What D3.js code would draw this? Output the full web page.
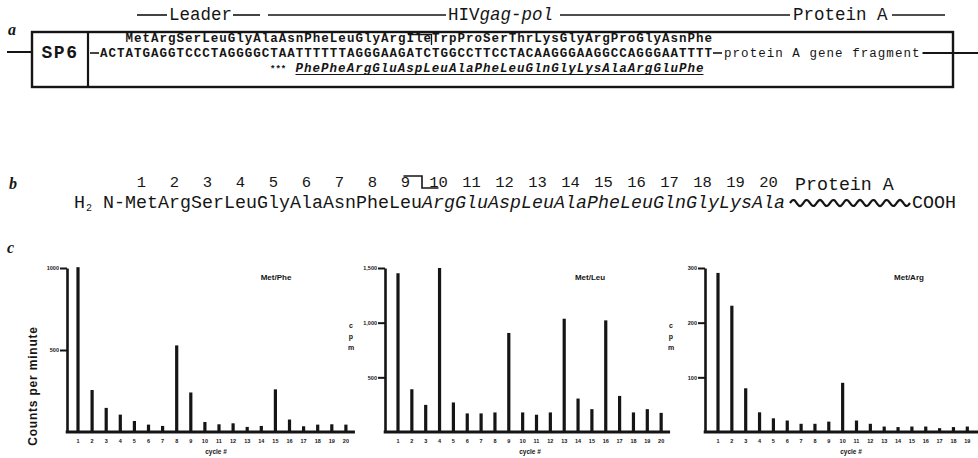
<!DOCTYPE html>
<html>
<head>
<meta charset="utf-8">
<script src="https://cdn.jsdelivr.net/npm/d3@7"></script>
<style>
  body { margin: 0; background: #fff; }
  svg { display: block; }
  text { fill: #151515; }
</style>
</head>
<body>
<svg id="fig" width="978" height="458"></svg>
<script>
// ---- panel a / b sequences ----
const leaderAA = "MetArgSerLeuGlyAlaAsnPheLeuGlyArgIleTrpProSerThrLysGlyArgProGlyAsnPhe";
const dnaSeq = "ACTATGAGGTCCCTAGGGGCTAATTTTTTAGGGAAGATCTGGCCTTCCTACAAGGGAAGGCCAGGGAATTTT";
const shiftedAA = "PhePheArgGluAspLeuAlaPheLeuGlnGlyLysAlaArgGluPhe";
const residues = ["Met","Arg","Ser","Leu","Gly","Ala","Asn","Phe","Leu",
                  "Arg","Glu","Asp","Leu","Ala","Phe","Leu","Gln","Gly","Lys","Ala"];
const residueNums = ["1","2","3","4","5","6","7","8","9","10",
                     "11","12","13","14","15","16","17","18","19","20"];

// ---- panel c data (counts per cycle) ----
const cycles = [1,2,3,4,5,6,7,8,9,10,11,12,13,14,15,16,17,18,19,20];
const metPhe = [1005,256,147,106,67,45,37,528,241,61,47,53,31,37,260,76,35,45,47,45];
const metLeu = [1452,391,248,1500,270,170,170,179,906,179,158,179,1036,306,209,1021,330,179,209,175];
const metArg = [291,231,80,36,25,21,15,15,19,90,21,15,10,9,10,10,7,9,10,10];
const pheTicks = [500,1000];
const leuTicks = [500,1000,1500];
const argTicks = [100,200,300];

const svg = d3.select("#fig");
const mono = "'Liberation Mono','DejaVu Sans Mono',monospace";
const serif = "'Liberation Serif','DejaVu Serif',serif";
const sans = "'Liberation Sans',Arial,sans-serif";
const ink = "#151515";

function hline(x1, x2, y, w) {
  svg.append("line").attr("x1", x1).attr("x2", x2).attr("y1", y).attr("y2", y)
    .attr("stroke", ink).attr("stroke-width", w || 1.6);
}

function panelLabel(t, x, y) {
  svg.append("text").attr("x", x).attr("y", y).text(t)
    .style("font-family", serif).style("font-style", "italic").style("font-weight", "bold")
    .style("font-size", "16px");
}

// ================= panel a =================
panelLabel("a", 8, 35);

// header
const hdr = svg.append("g").style("font-family", mono).style("font-size", "17.5px");
hline(137, 167, 15); hline(233, 260, 15);
hdr.append("text").attr("x", 169).attr("y", 20).text("Leader");
hline(268, 446, 15);
const hiv = hdr.append("text").attr("x", 448).attr("y", 20);
hiv.append("tspan").text("HIV");
hiv.append("tspan").style("font-style", "italic").text("gag-pol");
hline(560, 790, 15);
hdr.append("text").attr("x", 793).attr("y", 20).text("Protein A");
hline(892, 945, 15);

// construct box
svg.append("rect").attr("x", 32).attr("y", 32).attr("width", 921).attr("height", 55)
  .attr("fill", "none").attr("stroke", ink).attr("stroke-width", 2.4);
svg.append("line").attr("x1", 88).attr("x2", 88).attr("y1", 32).attr("y2", 87)
  .attr("stroke", ink).attr("stroke-width", 2.2);
hline(7, 32, 52, 2);
svg.append("text").attr("x", 60).attr("y", 58).attr("text-anchor", "middle").text("SP6")
  .style("font-family", mono).style("font-weight", "bold").style("font-size", "18px")
  .style("letter-spacing", "1.5px");

const cw = 8.5;         // width of one base
const x0 = 100;         // first base
const rows = svg.append("g").style("font-family", mono).style("font-size", "12.5px")
  .style("font-weight", "bold");
rows.append("text").attr("x", x0 + 3 * cw).attr("y", 42).text(leaderAA)
  .attr("textLength", leaderAA.length * cw);
// frameshift marker over the leader reading frame
const ileX = x0 + 3 * cw + 11 * 3 * cw;
svg.append("path").attr("d", `M${ileX + 2},34.5 H${ileX + 3 * cw} V45`)
  .attr("fill", "none").attr("stroke", ink).attr("stroke-width", 1.3);
hline(90, 99, 53, 1.6);
rows.append("text").attr("x", x0).attr("y", 57).text(dnaSeq)
  .attr("textLength", dnaSeq.length * cw);
const dnaEnd = x0 + dnaSeq.length * cw;
hline(dnaEnd + 1, dnaEnd + 10, 53, 1.6);
rows.append("text").attr("x", dnaEnd + 12).attr("y", 57).text("protein A gene fragment")
  .style("font-weight", "normal").attr("textLength", 23 * cw);
hline(dnaEnd + 12 + 23 * cw + 3, 978, 53, 2);
rows.append("text").attr("x", x0 + 20 * cw).attr("y", 71.5).text("***")
  .style("font-size", "9px");
rows.append("text").attr("x", x0 + 23 * cw).attr("y", 71.5).text(shiftedAA)
  .style("font-style", "italic").attr("textLength", shiftedAA.length * cw);
hline(x0 + 23 * cw, x0 + (23 + shiftedAA.length) * cw, 74.5, 1.2);

// ================= panel b =================
panelLabel("b", 9, 189);
const rw = 33;          // width of one residue
const r0 = 125;         // start of Met
const pb = svg.append("g").style("font-family", mono).style("font-size", "18.3px");
pb.selectAll(".num").data(residueNums).join("text")
  .attr("class", "num")
  .attr("x", (d, i) => r0 + i * rw + rw / 2)
  .attr("y", 187).attr("text-anchor", "middle")
  .style("font-size", "15.5px")
  .text(d => d);
svg.append("path").attr("d", `M${r0 + 8.5 * rw - 2},176 H${r0 + 9 * rw} V188 H${r0 + 9.5 * rw}`)
  .attr("fill", "none").attr("stroke", ink).attr("stroke-width", 1.6);
pb.append("text").attr("x", 795).attr("y", 190).text("Protein A");

const seq = pb.append("text").attr("y", 208);
seq.append("tspan").attr("x", 74).text("H");
seq.append("tspan").attr("x", 86).attr("dy", 3).style("font-size", "10px").text("2");
seq.append("tspan").attr("x", 103).attr("dy", -3).text("N-");
pb.selectAll(".res").data(residues).join("text")
  .attr("class", "res")
  .attr("x", (d, i) => r0 + i * rw)
  .attr("y", 208)
  .style("font-style", (d, i) => i >= 9 ? "italic" : "normal")
  .attr("textLength", rw)
  .text(d => d);

// wavy protein A segment
const wave = d3.range(0, 121, 1).map(t => [790 + t, 203 - 3 * Math.sin(t / 120 * 9 * 2 * Math.PI)]);
svg.append("path").attr("d", d3.line()(wave)).attr("fill", "none")
  .attr("stroke", ink).attr("stroke-width", 2.2);
pb.append("text").attr("x", 912).attr("y", 208).text("COOH");

// ================= panel c =================
panelLabel("c", 7, 253);

const baseY = 432, topY = 268;
const charts = [
  { title: "Met/Phe", values: metPhe, max: 1000, ticks: pheTicks, fmt: d => String(d),
    axisX: 67, first: 78, step: 14.1, titleX: 276, cycleX: 216 },
  { title: "Met/Leu", values: metLeu, max: 1500, ticks: leuTicks, fmt: d3.format(","),
    axisX: 385, first: 398, step: 13.85, titleX: 590, cycleX: 530, cpm: 351 },
  { title: "Met/Arg", values: metArg, max: 300, ticks: argTicks, fmt: d => String(d),
    axisX: 705, first: 718, step: 13.85, titleX: 909, cycleX: 851, cpm: 671 }
];

charts.forEach(c => {
  const g = svg.append("g");
  const x = d3.scaleBand().domain(cycles)
    .range([c.first - c.step / 2, c.first - c.step / 2 + c.step * cycles.length]);
  const y = d3.scaleLinear().domain([0, c.max]).range([baseY, topY]);

  // bars
  g.selectAll(".bar").data(cycles).join("rect")
    .attr("class", "bar")
    .attr("x", d => x(d) + x.bandwidth() / 2 - 1.6)
    .attr("y", (d, i) => y(c.values[i]))
    .attr("width", 3.2)
    .attr("height", (d, i) => baseY - y(c.values[i]))
    .attr("fill", ink);

  // y axis
  const ya = g.append("g").attr("transform", `translate(${c.axisX},0)`)
    .call(d3.axisLeft(y).tickValues(c.ticks).tickSize(7).tickSizeOuter(0).tickFormat(c.fmt));
  ya.select(".domain").attr("stroke", ink).attr("stroke-width", 2.6);
  ya.selectAll(".tick line").attr("stroke", ink).attr("stroke-width", 2);
  ya.selectAll(".tick text").attr("x", -8).attr("fill", ink)
    .style("font-family", sans).style("font-weight", "bold").style("font-size", "5.5px");

  // baseline
  g.append("line").attr("x1", c.axisX - 1.3).attr("x2", x.range()[1] + 2)
    .attr("y1", baseY).attr("y2", baseY).attr("stroke", ink).attr("stroke-width", 3);

  // cycle labels
  const xa = g.append("g").attr("transform", `translate(0,${baseY + 5})`)
    .call(d3.axisBottom(x).tickSize(0).tickPadding(2));
  xa.select(".domain").remove();
  xa.selectAll(".tick text").attr("fill", ink)
    .style("font-family", sans).style("font-weight", "bold").style("font-size", "5.5px");

  g.append("text").attr("x", c.cycleX).attr("y", 454).attr("text-anchor", "middle")
    .style("font-family", sans).style("font-weight", "bold").style("font-size", "6.5px")
    .text("cycle #");

  g.append("text").attr("x", c.titleX).attr("y", 280).attr("text-anchor", "middle")
    .style("font-family", sans).style("font-weight", "bold").style("font-size", "8px")
    .text(c.title);

  if (c.cpm) {
    ["c", "p", "m"].forEach((ch, i) => {
      g.append("text").attr("x", c.cpm).attr("y", 328 + i * 11).attr("text-anchor", "middle")
        .attr("fill", ink)
        .style("font-family", sans).style("font-weight", "bold").style("font-size", "7px")
        .text(ch);
    });
  }
});

svg.append("text").attr("transform", "translate(37,386) rotate(-90)")
  .attr("text-anchor", "middle")
  .style("font-family", sans).style("font-weight", "bold").style("font-size", "12px")
  .style("letter-spacing", "0.8px")
  .text("Counts per minute");
</script>
</body>
</html>
